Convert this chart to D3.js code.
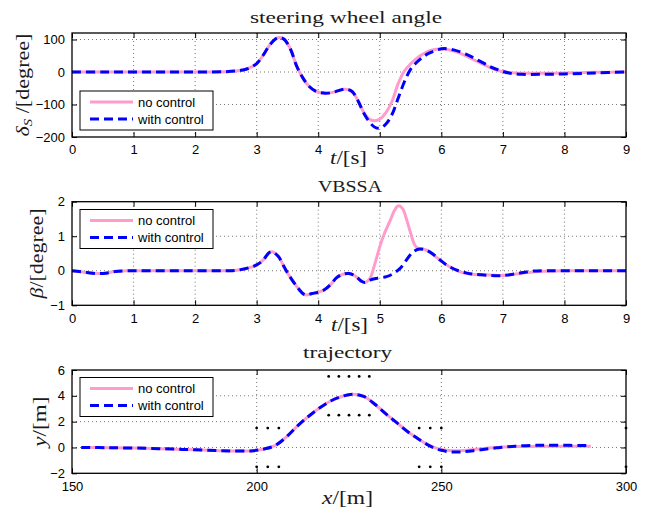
<!DOCTYPE html>
<html>
<head>
<meta charset="utf-8">
<script src="https://cdn.jsdelivr.net/npm/d3@7"></script>
<style>
  html, body { margin: 0; padding: 0; background: #fff; }
  svg { display: block; }
</style>
</head>
<body>
<svg id="chart" width="647" height="516"></svg>
<script>
// ---- steering wheel angle [degree] vs t [s] ----
const steerTimeNo   = [0, 0.5, 1, 1.5, 2, 2.5, 2.7, 2.85, 3.0, 3.1, 3.2, 3.3, 3.37, 3.45, 3.55, 3.65, 3.75, 3.85, 3.95, 4.05, 4.15, 4.25, 4.35, 4.45, 4.55, 4.65, 4.75, 4.85, 4.92, 5.0, 5.1, 5.2, 5.3, 5.4, 5.5, 5.6, 5.7, 5.8, 5.95, 6.1, 6.3, 6.5, 6.7, 6.85, 7.0, 7.2, 7.5, 8, 8.5, 9];
const steerNo       = [0, 0, 0, 0, 0, 1, 4, 10, 26, 50, 80, 101, 106, 100, 70, 18, -18, -44, -58, -64, -65, -62, -56, -53, -60, -90, -127, -147, -150, -145, -125, -90, -35, 3, 25, 42, 55, 65, 71, 69, 58, 40, 22, 9, 1, -3, -4, -3, -1, 0];
const steerTimeWith = [0, 0.5, 1, 1.5, 2, 2.5, 2.7, 2.85, 3.0, 3.1, 3.2, 3.3, 3.37, 3.45, 3.55, 3.65, 3.75, 3.85, 3.95, 4.05, 4.15, 4.25, 4.35, 4.45, 4.55, 4.65, 4.75, 4.85, 4.92, 5.0, 5.1, 5.2, 5.3, 5.4, 5.5, 5.6, 5.7, 5.8, 5.95, 6.05, 6.2, 6.4, 6.6, 6.8, 6.95, 7.1, 7.3, 7.6, 8, 8.5, 9];
const steerWith     = [0, 0, 0, 0, 0, 1, 4, 10, 26, 50, 80, 101, 106, 100, 70, 18, -18, -44, -58, -64, -65, -62, -56, -53, -60, -90, -130, -158, -170, -173, -160, -130, -80, -30, 8, 30, 46, 58, 69, 72, 68, 55, 36, 16, 5, -3, -7, -7, -6, -3, 0];

// ---- VBSSA [degree] vs t [s] ----
const betaTimeNo   = [0, 0.2, 0.4, 0.55, 0.7, 0.9, 1.5, 2, 2.5, 2.7, 2.9, 3.0, 3.1, 3.2, 3.25, 3.35, 3.45, 3.55, 3.65, 3.75, 3.8, 3.9, 4.0, 4.1, 4.2, 4.3, 4.4, 4.5, 4.6, 4.7, 4.76, 4.84, 4.92, 5.0, 5.08, 5.17, 5.24, 5.3, 5.37, 5.44, 5.5, 5.57, 5.63, 5.7, 5.8, 5.9, 6.0, 6.15, 6.3, 6.5, 6.8, 7.0, 7.3, 7.6, 8, 9];
const betaNo       = [0, -0.04, -0.08, -0.07, -0.02, 0, 0, 0, 0, 0.02, 0.1, 0.17, 0.3, 0.52, 0.55, 0.42, 0.1, -0.2, -0.45, -0.66, -0.7, -0.66, -0.62, -0.55, -0.4, -0.2, -0.1, -0.08, -0.15, -0.3, -0.34, -0.22, 0.2, 0.7, 1.1, 1.46, 1.75, 1.88, 1.8, 1.46, 1.1, 0.74, 0.64, 0.63, 0.56, 0.42, 0.28, 0.1, -0.03, -0.1, -0.12, -0.14, -0.07, -0.02, 0, 0];
const betaTimeWith = [0, 0.2, 0.4, 0.55, 0.7, 0.9, 1.5, 2, 2.5, 2.7, 2.9, 3.0, 3.1, 3.2, 3.25, 3.35, 3.45, 3.55, 3.65, 3.75, 3.8, 3.9, 4.0, 4.1, 4.2, 4.3, 4.4, 4.5, 4.6, 4.7, 4.76, 4.84, 4.95, 5.11, 5.22, 5.33, 5.42, 5.49, 5.57, 5.65, 5.75, 5.85, 5.98, 6.1, 6.25, 6.4, 6.52, 6.75, 6.98, 7.2, 7.49, 8, 9];
const betaWith     = [0, -0.04, -0.08, -0.07, -0.02, 0, 0, 0, 0, 0.02, 0.1, 0.17, 0.3, 0.52, 0.55, 0.42, 0.1, -0.2, -0.45, -0.66, -0.7, -0.66, -0.62, -0.55, -0.4, -0.2, -0.1, -0.08, -0.15, -0.3, -0.34, -0.27, -0.22, -0.17, -0.08, 0.07, 0.28, 0.45, 0.58, 0.63, 0.6, 0.5, 0.31, 0.15, 0.02, -0.06, -0.1, -0.13, -0.14, -0.09, -0.01, 0, 0];

// ---- trajectory y [m] vs x [m] ----
const trajXNo   = [152.5, 160, 170, 180, 190, 195, 199, 202, 205, 208, 211, 214, 217, 220, 223, 226, 229, 232, 235, 238, 241, 244, 247, 250, 253, 256, 260, 265, 270, 280, 290.5];
const trajYNo   = [0, -0.02, -0.06, -0.15, -0.25, -0.28, -0.25, -0.12, 0.15, 0.8, 1.65, 2.4, 3.05, 3.6, 3.95, 4.12, 3.95, 3.35, 2.6, 1.9, 1.2, 0.62, 0.12, -0.15, -0.25, -0.24, -0.12, 0, 0.07, 0.1, 0.1];
const trajXWith = [152.5, 160, 170, 180, 190, 195, 199, 202, 205, 208, 211, 214, 217, 220, 223, 226, 229, 232, 235, 238, 241, 244, 247, 250, 253, 256, 260, 265, 270, 275, 280, 290.5];
const trajYWith = [0, -0.02, -0.06, -0.15, -0.25, -0.28, -0.25, -0.12, 0.15, 0.8, 1.65, 2.4, 3.05, 3.6, 3.95, 4.12, 3.95, 3.35, 2.6, 1.9, 1.2, 0.62, 0.1, -0.22, -0.35, -0.33, -0.2, -0.03, 0.1, 0.16, 0.17, 0.15];

// lane-change cone positions [m]
const coneX = [200, 203, 206, 200, 203, 206, 219.5, 222.25, 225, 227.75, 230.5, 219.5, 222.25, 225, 227.75, 230.5, 244, 247, 250, 244, 247, 250, 300, 300];
const coneY = [1.5, 1.5, 1.5, -1.5, -1.5, -1.5, 5.5, 5.5, 5.5, 5.5, 5.5, 2.5, 2.5, 2.5, 2.5, 2.5, 1.5, 1.5, 1.5, -1.5, -1.5, -1.5, 1.5, -1.5];

// tick values
const timeTicks  = [0, 1, 2, 3, 4, 5, 6, 7, 8, 9];
const steerTicks = [-200, -100, 0, 100];
const betaTicks  = [-1, 0, 1, 2];
const trajXTicks = [150, 200, 250, 300];
const trajYTicks = [-2, 0, 2, 4, 6];

const legendNames = ["no control", "with control"];
const pink = "#ff9ccb";
const blue = "#0000ff";
const tickFont = "'Liberation Sans', Arial, Helvetica, sans-serif";
const serifFont = "'Liberation Serif', 'Times New Roman', serif";

const svg = d3.select("#chart");
const left = 72, right = 626;

const fmt = v => (v < 0 ? "\u2212" + Math.abs(v) : String(v));

function panel(cfg) {
  const x = d3.scaleLinear().domain(cfg.xDomain).range([left, right]);
  const y = d3.scaleLinear().domain(cfg.yDomain).range([cfg.bottom, cfg.top]);
  const g = svg.append("g");

  // dotted grid
  const grid = g.append("g").attr("stroke", "#555").attr("stroke-width", 0.8)
    .attr("stroke-dasharray", "1,3");
  cfg.xTicks.forEach(v => {
    if (v === cfg.xDomain[0] || v === cfg.xDomain[1]) return;
    grid.append("line").attr("x1", x(v)).attr("x2", x(v))
      .attr("y1", cfg.top).attr("y2", cfg.bottom);
  });
  cfg.yTicks.forEach(v => {
    if (v === cfg.yDomain[0] || v === cfg.yDomain[1]) return;
    grid.append("line").attr("x1", left).attr("x2", right)
      .attr("y1", y(v)).attr("y2", y(v));
  });

  // axes with inward ticks
  const ax = g.append("g").attr("transform", `translate(0,${cfg.bottom})`)
    .call(d3.axisBottom(x).tickValues(cfg.xTicks).tickSizeInner(-5).tickSizeOuter(0).tickPadding(8).tickFormat(fmt));
  const ay = g.append("g").attr("transform", `translate(${left},0)`)
    .call(d3.axisLeft(y).tickValues(cfg.yTicks).tickSizeInner(-5).tickSizeOuter(0).tickPadding(7).tickFormat(fmt));
  const axT = g.append("g").attr("transform", `translate(0,${cfg.top})`)
    .call(d3.axisTop(x).tickValues(cfg.xTicks).tickSizeInner(-5).tickSizeOuter(0).tickFormat(""));
  const ayR = g.append("g").attr("transform", `translate(${right},0)`)
    .call(d3.axisRight(y).tickValues(cfg.yTicks).tickSizeInner(-5).tickSizeOuter(0).tickFormat(""));
  [ax, ay, axT, ayR].forEach(a => {
    a.select(".domain").remove();
    a.selectAll("line").attr("stroke", "#000").attr("stroke-width", 1);
    a.selectAll("text").attr("font-family", tickFont).attr("font-size", 13).attr("fill", "#000");
  });

  // extra markers (cones)
  if (cfg.dotsX) {
    g.append("g").selectAll("circle").data(cfg.dotsX).join("circle")
      .attr("cx", d => x(d)).attr("cy", (d, i) => y(cfg.dotsY[i]))
      .attr("r", 1.4).attr("fill", "#000");
  }

  // data lines
  const line = (xs, ys) => d3.line()
    .x((d, i) => x(xs[i])).y(d => y(d))
    .curve(d3.curveCatmullRom.alpha(0.5))(ys);
  g.append("path").attr("d", line(cfg.xsNo, cfg.ysNo))
    .attr("fill", "none").attr("stroke", pink).attr("stroke-width", 3);
  g.append("path").attr("d", line(cfg.xsWith, cfg.ysWith))
    .attr("fill", "none").attr("stroke", blue).attr("stroke-width", 3)
    .attr("stroke-dasharray", "9,5");

  // frame
  g.append("rect").attr("x", left).attr("y", cfg.top)
    .attr("width", right - left).attr("height", cfg.bottom - cfg.top)
    .attr("fill", "none").attr("stroke", "#000").attr("stroke-width", 1.3);

  // legend
  const lg = g.append("g").attr("transform", `translate(80,${cfg.legendTop})`);
  lg.append("rect").attr("width", 133).attr("height", 39)
    .attr("fill", "#fff").attr("stroke", "#000").attr("stroke-width", 1);
  legendNames.forEach((name, i) => {
    const yy = 11 + i * 17;
    lg.append("line").attr("x1", 10).attr("x2", 53).attr("y1", yy).attr("y2", yy)
      .attr("stroke", i === 0 ? pink : blue).attr("stroke-width", 3)
      .attr("stroke-dasharray", i === 0 ? null : "9,5");
    lg.append("text").attr("x", 58).attr("y", yy + 4.5).text(name)
      .attr("font-family", tickFont).attr("font-size", 13).attr("fill", "#000");
  });

  // title
  svg.append("text").attr("x", cfg.titleX).attr("y", cfg.titleY)
    .attr("font-family", serifFont).attr("font-size", 16).attr("fill", "#1a1a1a")
    .attr("textLength", cfg.titleLen).attr("lengthAdjust", "spacingAndGlyphs")
    .text(cfg.title);

  // x label
  const xl = svg.append("text").attr("x", cfg.xLabelX).attr("y", cfg.xLabelY)
    .attr("font-family", serifFont).attr("font-size", 18).attr("fill", "#1a1a1a")
    .attr("textLength", cfg.xLabelLen).attr("lengthAdjust", "spacingAndGlyphs");
  xl.append("tspan").attr("font-style", "italic").text(cfg.xLabel[0]);
  xl.append("tspan").text(cfg.xLabel[1]);

  // y label
  const mid = (cfg.top + cfg.bottom) / 2;
  const yl = svg.append("text")
    .attr("transform", `translate(${cfg.yLabelX},${mid + cfg.yLabelLen / 2}) rotate(-90)`)
    .attr("font-family", serifFont).attr("font-size", 18).attr("fill", "#1a1a1a")
    .attr("textLength", cfg.yLabelLen).attr("lengthAdjust", "spacingAndGlyphs");
  cfg.yLabel(yl);
}

panel({
  xDomain: [0, 9], yDomain: [-200, 120], top: 33, bottom: 137,
  xTicks: timeTicks, yTicks: steerTicks,
  xsNo: steerTimeNo, ysNo: steerNo, xsWith: steerTimeWith, ysWith: steerWith,
  legendTop: 91, title: "steering wheel angle", titleX: 250, titleY: 23, titleLen: 192,
  xLabel: ["t", "/[s]"], xLabelX: 330, xLabelY: 164, xLabelLen: 37,
  yLabelX: 29, yLabelLen: 103,
  yLabel: t => {
    t.append("tspan").attr("font-style", "italic").text("\u03b4");
    t.append("tspan").attr("font-size", 12).attr("font-style", "italic").attr("dy", 3).text("S");
    t.append("tspan").attr("dy", -3).text(" /[degree]");
  }
});

panel({
  xDomain: [0, 9], yDomain: [-1, 2], top: 201.7, bottom: 305.3,
  xTicks: timeTicks, yTicks: betaTicks,
  xsNo: betaTimeNo, ysNo: betaNo, xsWith: betaTimeWith, ysWith: betaWith,
  legendTop: 209.5, title: "VBSSA", titleX: 318, titleY: 192, titleLen: 64,
  xLabel: ["t", "/[s]"], xLabelX: 331, xLabelY: 331, xLabelLen: 37,
  yLabelX: 43, yLabelLen: 90,
  yLabel: t => {
    t.append("tspan").attr("font-style", "italic").text("\u03b2");
    t.append("tspan").text("/[degree]");
  }
});

panel({
  xDomain: [150, 300], yDomain: [-2, 6], top: 370, bottom: 473.3,
  xTicks: trajXTicks, yTicks: trajYTicks,
  xsNo: trajXNo, ysNo: trajYNo, xsWith: trajXWith, ysWith: trajYWith,
  dotsX: coneX, dotsY: coneY,
  legendTop: 377.5, title: "trajectory", titleX: 303, titleY: 358, titleLen: 89,
  xLabel: ["x", "/[m]"], xLabelX: 322, xLabelY: 504, xLabelLen: 51,
  yLabelX: 46, yLabelLen: 50,
  yLabel: t => {
    t.append("tspan").attr("font-style", "italic").text("y");
    t.append("tspan").text("/[m]");
  }
});
</script>
</body>
</html>
